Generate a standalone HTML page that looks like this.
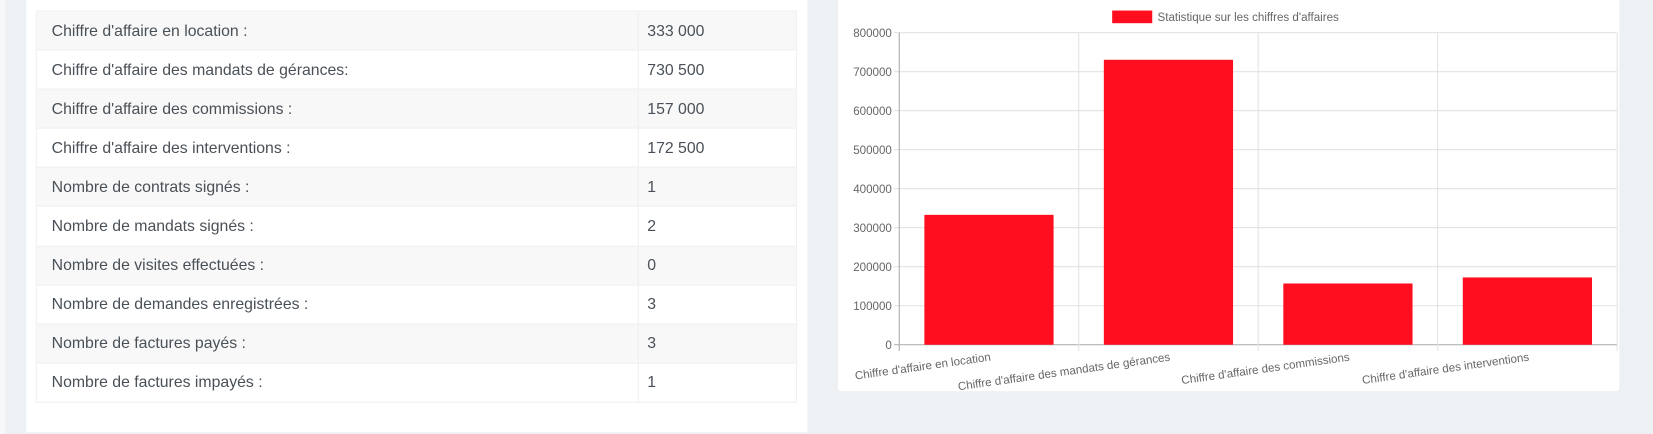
<!DOCTYPE html>
<html><head><meta charset="utf-8"><style>
body{margin:0;width:1653px;height:434px;background:#eef1f4;font-family:"Liberation Sans",sans-serif;overflow:hidden}
#wrap{position:absolute;left:0;top:0;width:1568px;height:412px;transform:scale(1.0542);transform-origin:0 0}
#lstrip{position:absolute;left:0;top:0;width:5px;height:412px;background:#f7f8f9}
#lpanel{position:absolute;left:25px;top:0;width:741px;height:410px;background:#fff}
table{position:absolute;left:34px;top:10px;width:722px;border-collapse:collapse;font-size:15px;color:#495057}
td{height:37.1px;border:1px solid #eef0f2;padding:0 14px;box-sizing:border-box}
tr:nth-child(odd) td{background:#f8f8f8}
td.v{width:150px;padding-left:8px}
#card{position:absolute;left:795px;top:0;width:741px;height:371px;background:#fff;border-radius:0 0 3px 3px}
svg{position:absolute;left:0;top:0}
</style></head><body>
<div id="wrap">
<div id="lstrip"></div>
<div id="lpanel"></div>
<table>
<tr><td>Chiffre d'affaire en location :</td><td class="v">333 000</td></tr>
<tr><td>Chiffre d'affaire des mandats de gérances:</td><td class="v">730 500</td></tr>
<tr><td>Chiffre d'affaire des commissions :</td><td class="v">157 000</td></tr>
<tr><td>Chiffre d'affaire des interventions :</td><td class="v">172 500</td></tr>
<tr><td>Nombre de contrats signés :</td><td class="v">1</td></tr>
<tr><td>Nombre de mandats signés :</td><td class="v">2</td></tr>
<tr><td>Nombre de visites effectuées :</td><td class="v">0</td></tr>
<tr><td>Nombre de demandes enregistrées :</td><td class="v">3</td></tr>
<tr><td>Nombre de factures payés :</td><td class="v">3</td></tr>
<tr><td>Nombre de factures impayés :</td><td class="v">1</td></tr>
</table>
<div id="card"></div>
<svg id="chart" width="1568" height="412"></svg>
</div>
<script>
const categories=["Chiffre d'affaire en location","Chiffre d'affaire des mandats de gérances","Chiffre d'affaire des commissions","Chiffre d'affaire des interventions"];
const values=[333000,730500,157000,172500];
const yTicks=[0,100000,200000,300000,400000,500000,600000,700000,800000];
const seriesLabel="Statistique sur les chiffres d'affaires";
const svg=document.getElementById('chart');
const NS='http://www.w3.org/2000/svg';
const X0=853,X1=1534,Y0=327,Y1=31,YMAX=800000;
const cw=(X1-X0)/categories.length;
const y=v=>Y0-(v/YMAX)*(Y0-Y1);
const xc=i=>X0+cw*(i+0.5);
function mk(t,a,txt){const e=document.createElementNS(NS,t);for(const k in a)e.setAttribute(k,a[k]);if(txt!=null)e.textContent=txt;svg.appendChild(e);return e;}
yTicks.forEach(t=>{
 const g=mk('line',{x1:X0-5,x2:X1,y1:y(t),y2:y(t),stroke:t===0?'#aaa':'#e2e2e2','stroke-width':1});
 
 
 const l=mk('text',{x:846,y:y(t)+4,'text-anchor':'end','font-size':11,fill:'#666'},t);
 
 
});
for(let i=0;i<=categories.length;i++){
 const x=X0+cw*i;
 const g=mk('line',{x1:x,x2:x,y1:Y1,y2:Y0+6,stroke:i===0?'#aaa':'#e2e2e2','stroke-width':1});
 
 
}
categories.forEach((c,i)=>{
 const bw=cw*0.72;
 const b=mk('rect',{x:xc(i)-bw/2,y:y(values[i]),width:bw,height:Y0-y(values[i]),fill:'#fe0e1e'});
 
 
 const cx=xc(i)+2,cy=342;
 const l=mk('text',{x:cx,y:cy,'text-anchor':'end','font-size':11,fill:'#666',transform:`rotate(-8 ${cx} ${cy})`},c);
 
 
});
const lb=mk('rect',{x:1055,y:10,width:38,height:12,fill:'#fe0e1e'});


const lt=mk('text',{x:1098,y:20,'font-size':11,fill:'#666'},seriesLabel);


</script>
</body></html>
